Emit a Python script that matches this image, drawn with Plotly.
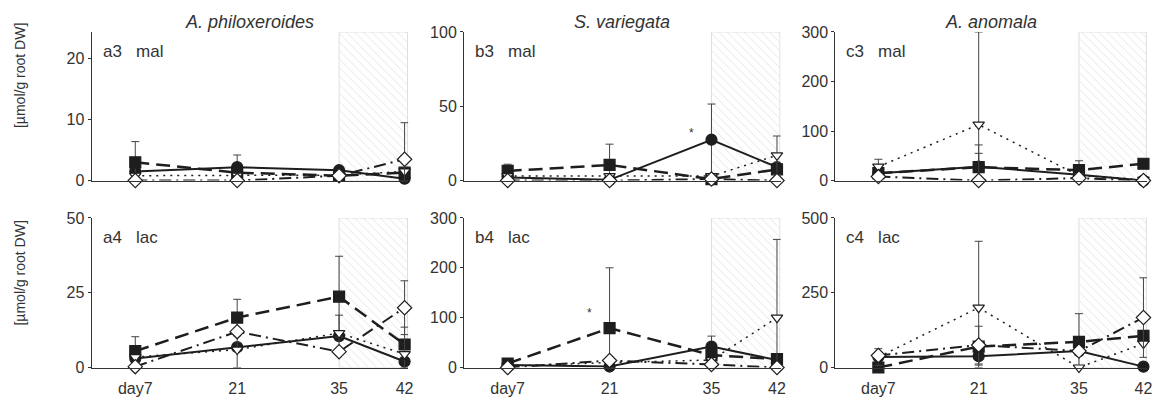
import plotly.graph_objects as go

# ---------------- data ----------------
days = [7, 21, 35, 42]
day_labels = ["day7", "21", "35", "42"]
species = ["A. philoxeroides", "S. variegata", "A. anomala"]
panel_tags = [["a3", "b3", "c3"], ["a4", "b4", "c4"]]
acids = ["mal", "lac"]

# row 1: malate
a3_circle = [1.5, 2.2, 1.7, 0.3]
a3_circle_err = [0, 2.0, 0, 0]
a3_square = [3.0, 1.3, 0.8, 1.3]
a3_square_err = [3.4, 0, 0, 0]
a3_tri = [0.8, 0.8, 0.9, 1.5]
a3_tri_err = [0, 0, 0, 0]
a3_diam = [0, 0, 0.8, 3.5]
a3_diam_err = [0, 0, 0, 6.0]

b3_circle = [2, 0.5, 27.5, 9]
b3_circle_err = [0, 0, 24, 0]
b3_square = [6.5, 10.5, 1, 7.5]
b3_square_err = [4.5, 14, 0, 0]
b3_tri = [3, 3, 3, 17]
b3_tri_err = [0, 0, 0, 13]
b3_diam = [0, 0, 1, 0]
b3_diam_err = [0, 0, 0, 0]

c3_circle = [15, 28, 12, 0]
c3_circle_err = [0, 27, 0, 0]
c3_square = [15, 27, 21, 34]
c3_square_err = [0, 45, 19, 0]
c3_tri = [28, 113, 10, 2]
c3_tri_err = [15, 187, 0, 0]
c3_diam = [8, 0, 5, 0]
c3_diam_err = [0, 0, 0, 0]

# row 2: lactate
a4_circle = [3, 6.8, 10.5, 2]
a4_circle_err = [0, 0, 0, 0]
a4_square = [5.5, 16.7, 23.7, 7.7]
a4_square_err = [4.8, 6.1, 13.5, 0]
a4_tri = [3.5, 6, 11.5, 4.5]
a4_tri_err = [0, 6, 6, 9]
a4_diam = [0.3, 12, 5.3, 20]
a4_diam_err = [0, 0, 0, 9]

b4_circle = [5, 2, 42, 15]
b4_circle_err = [0, 0, 21, 0]
b4_square = [8, 79, 25, 17]
b4_square_err = [0, 121, 0, 0]
b4_tri = [3, 10, 15, 100]
b4_tri_err = [0, 0, 0, 157]
b4_diam = [0, 14, 6, 0]
b4_diam_err = [0, 0, 0, 0]

c4_circle = [35, 38, 55, 3]
c4_circle_err = [0, 30, 0, 0]
c4_square = [0, 70, 86, 106]
c4_square_err = [0, 0, 94, 0]
c4_tri = [35, 200, 0, 80]
c4_tri_err = [28, 222, 0, 0]
c4_diam = [40, 75, 55, 167]
c4_diam_err = [0, 63, 0, 133]

y_max = [[24.4, 100, 300], [50, 300, 500]]
y_ticks = [[[0, 10, 20], [0, 50, 100], [0, 100, 200, 300]],
           [[0, 25, 50], [0, 100, 200, 300], [0, 250, 500]]]

# significance stars: (row, col, day, value)
stars = [(0, 1, 32.3, 32), (1, 1, 18.2, 110)]

panels = [
    [
        (a3_circle, a3_circle_err, a3_square, a3_square_err, a3_tri, a3_tri_err, a3_diam, a3_diam_err),
        (b3_circle, b3_circle_err, b3_square, b3_square_err, b3_tri, b3_tri_err, b3_diam, b3_diam_err),
        (c3_circle, c3_circle_err, c3_square, c3_square_err, c3_tri, c3_tri_err, c3_diam, c3_diam_err),
    ],
    [
        (a4_circle, a4_circle_err, a4_square, a4_square_err, a4_tri, a4_tri_err, a4_diam, a4_diam_err),
        (b4_circle, b4_circle_err, b4_square, b4_square_err, b4_tri, b4_tri_err, b4_diam, b4_diam_err),
        (c4_circle, c4_circle_err, c4_square, c4_square_err, c4_tri, c4_tri_err, c4_diam, c4_diam_err),
    ],
]

# ---------------- layout constants ----------------
W, H = 1160, 412
# the last sampling day is drawn a bit further right in the original chart
x_pos = [7, 21, 35, 44]
x_range = [1, 44.5]
shade_end = 44.4
x_dom_px = [(92, 410), (466, 784), (839, 1152)]
y_dom_px = [(25, 180), (219, 375)]
FONT = "Liberation Sans, Arial, sans-serif"
INK = "#1e1e1e"
AX = "#333333"

styles = [
    dict(symbol="circle", size=11, fill=INK, dash="solid", width=2.0),
    dict(symbol="square", size=11, fill=INK, dash="14px,7px", width=2.5),
    dict(symbol="triangle-down", size=10, fill="white", dash="2px,5px", width=1.5),
    dict(symbol="diamond", size=11, fill="white", dash="12px,5px,2px,5px", width=2.0),
]

fig = go.Figure()
layout = dict(
    width=W, height=H, margin=dict(l=0, r=0, t=0, b=0),
    paper_bgcolor="white", plot_bgcolor="white", showlegend=False,
    font=dict(family=FONT, color=AX),
)
annotations = []

for r in range(2):
    for c in range(3):
        idx = r * 3 + c + 1
        xa = "x" if idx == 1 else f"x{idx}"
        ya = "y" if idx == 1 else f"y{idx}"
        xk = "xaxis" if idx == 1 else f"xaxis{idx}"
        yk = "yaxis" if idx == 1 else f"yaxis{idx}"
        x0, x1 = x_dom_px[c]
        yt, yb = y_dom_px[r]
        layout[xk] = dict(
            domain=[x0 / W, x1 / W], range=x_range, anchor=ya,
            showline=True, linecolor=AX, linewidth=1, showgrid=False, zeroline=False,
            tickvals=x_pos, ticktext=day_labels, showticklabels=(r == 1),
            ticks="outside", ticklen=6, tickcolor="rgba(0,0,0,0)",
            tickfont=dict(size=16, color=AX, family=FONT),
        )
        layout[yk] = dict(
            domain=[1 - yb / H, 1 - yt / H], range=[0, y_max[r][c]], anchor=xa,
            showline=True, linecolor=AX, linewidth=1, showgrid=False, zeroline=False,
            tickvals=y_ticks[r][c], ticks="outside", ticklen=3, tickcolor=AX,
            tickfont=dict(size=16, color=AX, family=FONT),
        )
        # hatched post-treatment region
        ym = y_max[r][c]
        fig.add_trace(go.Scatter(
            x=[x_pos[2], shade_end, shade_end, x_pos[2], x_pos[2]],
            y=[0, 0, ym, ym, 0], xaxis=xa, yaxis=ya, mode="lines",
            fill="toself", fillcolor="white",
            fillpattern=dict(shape="\\", fgcolor="#c8c8c8", bgcolor="white", size=6, solidity=0.15),
            line=dict(color="#dedede", width=1), hoverinfo="skip",
        ))
        vals = panels[r][c]
        for k, st in enumerate(styles):
            yv = vals[2 * k]
            ev = vals[2 * k + 1]
            em = [min(e, v) for e, v in zip(ev, yv)]
            fig.add_trace(go.Scatter(
                x=x_pos, y=yv, xaxis=xa, yaxis=ya, mode="lines+markers",
                line=dict(color=INK, width=st["width"], dash=st["dash"]),
                marker=dict(symbol=st["symbol"], size=st["size"], color=st["fill"],
                            line=dict(color=INK, width=1.2)),
                error_y=dict(type="data", array=ev, arrayminus=em, visible=True,
                             color="#444444", thickness=1, width=4),
                cliponaxis=False,
            ))
        # panel tag
        annotations.append(dict(
            x=(x0 + 9) / W, y=1 - (yt + 20) / H, xref="paper", yref="paper",
            xanchor="left", yanchor="middle", showarrow=False,
            text=f"{panel_tags[r][c]}\u00a0\u00a0\u00a0{acids[r]}",
            font=dict(size=17, color=AX, family=FONT),
        ))
        if r == 0:
            annotations.append(dict(
                x=(x0 + x1) / 2 / W, y=1 - 15 / H, xref="paper", yref="paper",
                xanchor="center", yanchor="middle", showarrow=False,
                text=f"<i>{species[c]}</i>",
                font=dict(size=18, color=AX, family=FONT),
            ))

for (r, c, xd, yv) in stars:
    idx = r * 3 + c + 1
    annotations.append(dict(
        x=xd, y=yv, xref="x" if idx == 1 else f"x{idx}", yref="y" if idx == 1 else f"y{idx}",
        text="*", showarrow=False, font=dict(size=12, color=AX, family=FONT),
    ))

for yc in (70, 276):
    annotations.append(dict(
        x=20 / W, y=1 - yc / H, xref="paper", yref="paper", textangle=-90,
        xanchor="center", yanchor="middle", showarrow=False,
        text="[µmol/g root DW]", font=dict(size=14, color=AX, family=FONT),
    ))

layout["annotations"] = annotations
fig.update_layout(**layout)
fig.write_html("out.html")
